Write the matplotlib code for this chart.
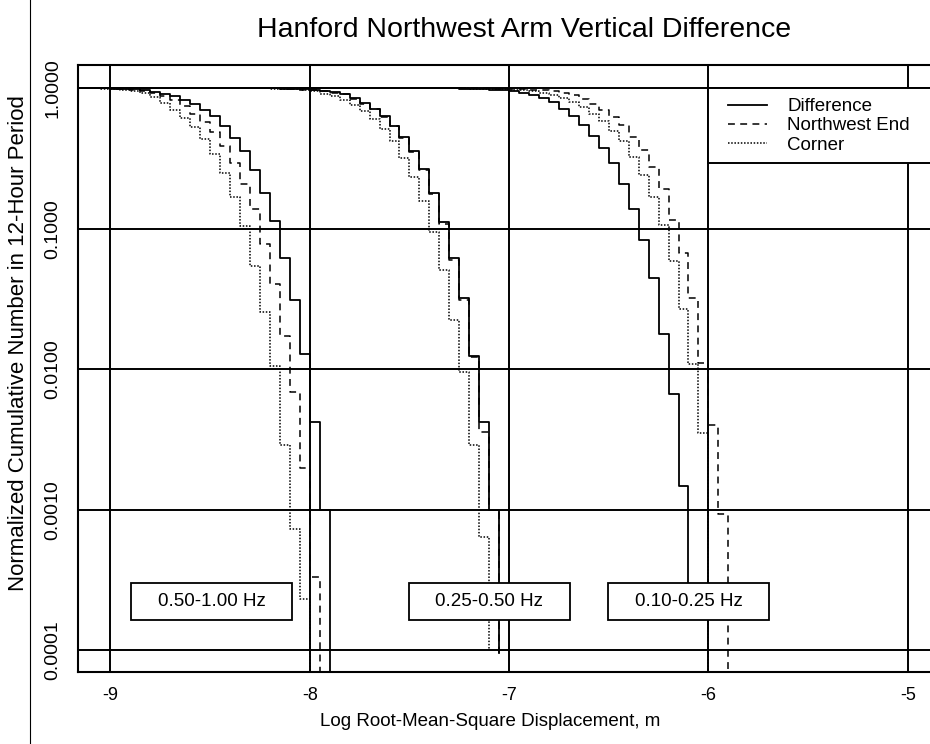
import numpy as np
import matplotlib
matplotlib.use("Agg")
import matplotlib.pyplot as plt
from matplotlib.patches import Rectangle
from matplotlib.lines import Line2D
from matplotlib.ticker import FixedLocator, FixedFormatter, NullLocator

plt.rcParams['font.family'] = ['Liberation Sans', 'DejaVu Sans']

# ---------------- data ----------------
title = "Hanford Northwest Arm Vertical Difference"
xlabel = "Log Root-Mean-Square Displacement, m"
ylabel = "Normalized Cumulative Number in 12-Hour Period"
series_names = ["Difference", "Northwest End", "Corner"]
band_labels = ["0.50-1.00 Hz", "0.25-0.50 Hz", "0.10-0.25 Hz"]

x_ticks = [-9, -8, -7, -6, -5]
x_tick_labels = ["-9", "-8", "-7", "-6", "-5"]
y_ticks = [1.0, 0.1, 0.01, 0.001, 0.0001]
y_tick_labels = ["1.0000", "0.1000", "0.0100", "0.0010", "0.0001"]

# right-hand bin edges (log10 m); each level is the value on the bin ending at that edge
g1_edges = [-9.05, -9.00, -8.95, -8.90, -8.85, -8.80, -8.75, -8.70, -8.65, -8.60,
            -8.55, -8.50, -8.45, -8.40, -8.35, -8.30, -8.25, -8.20, -8.15, -8.10,
            -8.05, -8.00, -7.95, -7.90]
g1_diff = [0.9995, 0.998, 0.995, 0.99, 0.982, 0.968, 0.946, 0.917, 0.877, 0.83,
           0.778, 0.705, 0.632, 0.537, 0.446, 0.356, 0.264, 0.181, 0.114, 0.0624,
           0.0313, 0.0128, 0.0042, 0.001]
g1_nw = [0.999, 0.997, 0.993, 0.986, 0.975, 0.955, 0.925, 0.88, 0.82, 0.745,
         0.66, 0.575, 0.489, 0.386, 0.294, 0.207, 0.138, 0.0784, 0.0403, 0.0172,
         0.0069, 0.002, 0.00033]
g1_corner = [0.998, 0.995, 0.988, 0.975, 0.955, 0.925, 0.87, 0.79, 0.705, 0.618,
             0.53, 0.438, 0.339, 0.25, 0.168, 0.105, 0.054, 0.0254, 0.0105, 0.0029,
             0.00073, 0.000233]

g2_edges = [-8.20, -8.15, -8.10, -8.05, -8.00, -7.95, -7.90, -7.85, -7.80, -7.75,
            -7.70, -7.65, -7.60, -7.55, -7.50, -7.45, -7.40, -7.35, -7.30, -7.25,
            -7.20, -7.15, -7.10, -7.05]
g2_diff = [0.9995, 0.998, 0.995, 0.99, 0.982, 0.972, 0.96, 0.94, 0.917, 0.853,
           0.787, 0.717, 0.632, 0.542, 0.448, 0.358, 0.267, 0.18, 0.111, 0.0617,
           0.0324, 0.0125, 0.0042, 0.00099]
g2_nw = [0.999, 0.997, 0.993, 0.987, 0.978, 0.966, 0.952, 0.93, 0.905, 0.845,
         0.778, 0.708, 0.625, 0.535, 0.442, 0.352, 0.262, 0.176, 0.108, 0.06,
         0.031, 0.0122, 0.0036, 0.00099]
g2_corner = [0.998, 0.995, 0.99, 0.982, 0.97, 0.95, 0.917, 0.877, 0.82, 0.765,
             0.69, 0.601, 0.511, 0.42, 0.321, 0.234, 0.158, 0.0955, 0.0512, 0.0226,
             0.0095, 0.0029, 0.00064]

g3_edges = [-7.35, -7.30, -7.25, -7.20, -7.15, -7.10, -7.05, -7.00, -6.95, -6.90,
            -6.85, -6.80, -6.75, -6.70, -6.65, -6.60, -6.55, -6.50, -6.45, -6.40,
            -6.35, -6.30, -6.25, -6.20, -6.15, -6.10, -6.05, -6.00, -5.95, -5.90]
g3_diff = [0.9995, 0.999, 0.997, 0.995, 0.992, 0.988, 0.98, 0.97, 0.955, 0.93,
           0.89, 0.859, 0.80, 0.717, 0.632, 0.545, 0.455, 0.378, 0.294, 0.21,
           0.138, 0.0838, 0.0449, 0.0177, 0.0067, 0.00147]
g3_nw = [0.9998, 0.9996, 0.9993, 0.999, 0.998, 0.997, 0.995, 0.993, 0.99, 0.986,
         0.98, 0.97, 0.955, 0.927, 0.891, 0.844, 0.778, 0.697, 0.625, 0.545,
         0.45, 0.366, 0.275, 0.193, 0.116, 0.0673, 0.0324, 0.011, 0.004, 0.00094]
g3_corner = [0.9995, 0.999, 0.998, 0.997, 0.995, 0.992, 0.988, 0.982, 0.975, 0.965,
             0.95, 0.93, 0.90, 0.85, 0.80, 0.736, 0.66, 0.582, 0.497, 0.42,
             0.325, 0.243, 0.168, 0.106, 0.0587, 0.027, 0.0109, 0.0035]

# value after the last edge of each curve
g1_tails = [1e-6, 1e-6, 1e-6]
g2_tails = [9.5e-5, 9.5e-5, 1.0e-4]
g3_tails = [2.5e-4, 1e-6, 1e-6]

groups = [
    (g1_edges, [g1_diff, g1_nw, g1_corner], g1_tails),
    (g2_edges, [g2_diff, g2_nw, g2_corner], g2_tails),
    (g3_edges, [g3_diff, g3_nw, g3_corner], g3_tails),
]

# ---------------- layout / style ----------------
W, H = 930, 744
fig = plt.figure(figsize=(W / 100, H / 100), dpi=100)
ax_l, ax_r, ax_t, ax_b = 78, 940, 65, 672
ax = fig.add_axes([ax_l / W, 1 - ax_b / H, (ax_r - ax_l) / W, (ax_b - ax_t) / H])
ax.set_yscale('log')
ax.set_xlim(-9.163, -4.838)
ax.set_ylim(7.01e-5, 1.465)

def ax_fx(px):
    return (px - ax_l) / (ax_r - ax_l)

def ax_fy(py):
    return (ax_b - py) / (ax_b - ax_t)

styles = [dict(ls='-', lw=1.3),
          dict(ls=(0, (4.5, 3.5)), lw=1.1),
          dict(ls=(0, (1, 1.1)), lw=1.1)]

x_start = -9.4
for edges, levels_list, tails in groups:
    for levels, tail, st in zip(levels_list, tails, styles):
        n = len(levels)
        xs = [x_start] + edges[:n]
        ys = levels + [tail]
        ax.step(xs, ys, where='post', color='black', zorder=3, **st)

# grid and ticks
ax.xaxis.set_major_locator(FixedLocator(x_ticks))
ax.xaxis.set_major_formatter(FixedFormatter(x_tick_labels))
ax.yaxis.set_major_locator(FixedLocator(y_ticks))
ax.yaxis.set_major_formatter(FixedFormatter(y_tick_labels))
ax.yaxis.set_minor_locator(NullLocator())
ax.xaxis.set_minor_locator(NullLocator())
ax.grid(True, which='major', color='black', lw=1.4, zorder=1)
ax.set_axisbelow(True)
ax.tick_params(axis='both', length=0)
ax.tick_params(axis='x', pad=11, labelsize=13)
ax.tick_params(axis='y', pad=12, labelsize=14)
for lab in ax.get_yticklabels():
    lab.set_rotation(90)
    lab.set_va('center')
for sp in ax.spines.values():
    sp.set_linewidth(1.5)

# band labels in boxes
band_x = [-8.491, -7.099, -6.099]
box_w = 0.808
box_y0, box_y1 = 1.64e-4, 3.03e-4
for lab, xc in zip(band_labels, band_x):
    ax.add_patch(Rectangle((xc - box_w / 2, box_y0), box_w, box_y1 - box_y0,
                           facecolor='white', edgecolor='black', lw=1.3, zorder=5))
    ax.text(xc, np.sqrt(box_y0 * box_y1), lab, ha='center', va='center',
            fontsize=13.5, zorder=6)

# legend: frame drawn as a box, entries placed inside it
ax.add_patch(Rectangle((ax_fx(708), ax_fy(163)), 1.0, ax_fy(88.3) - ax_fy(163),
                       transform=ax.transAxes, facecolor='white', edgecolor='black',
                       lw=1.4, zorder=9, clip_on=False))
handles = [Line2D([], [], color='black', **st) for st in styles]
leg = ax.legend(handles, series_names, loc='upper left',
                bbox_to_anchor=(ax_fx(728), ax_fy(98)),
                borderaxespad=0, borderpad=0, frameon=False, fontsize=13.5,
                labelspacing=0.12, handlelength=2.08, handletextpad=1.07)
leg.set_zorder(10)

# titles
fig.text(524 / W, 1 - 30 / H, title, ha='center', va='center', fontsize=20.5)
fig.text(490 / W, 1 - 722 / H, xlabel, ha='center', va='center', fontsize=13.5)
fig.text(19 / W, 1 - 343 / H, ylabel, ha='center', va='center', rotation=90,
         fontsize=16)
fig.add_artist(Line2D([30 / W, 30 / W], [0, 1], transform=fig.transFigure,
                      color='black', lw=0.8))

fig.savefig('out.png', dpi=100)
